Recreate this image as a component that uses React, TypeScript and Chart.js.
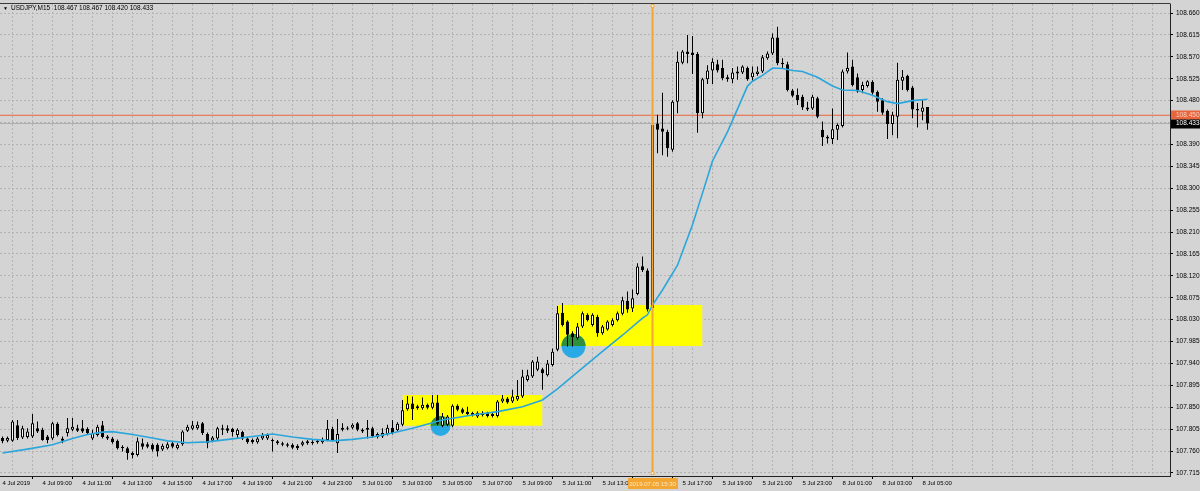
import React, { useEffect, useRef } from 'react';
import { Chart, registerables } from 'chart.js';
Chart.register(...registerables);

// ---------- data ----------
const symbolName = 'USDJPY,M15';
const timeLabels = [
  '4 Jul 2019', '4 Jul 09:00', '4 Jul 11:00', '4 Jul 13:00', '4 Jul 15:00', '4 Jul 17:00',
  '4 Jul 19:00', '4 Jul 21:00', '4 Jul 23:00', '5 Jul 01:00', '5 Jul 03:00', '5 Jul 05:00',
  '5 Jul 07:00', '5 Jul 09:00', '5 Jul 11:00', '5 Jul 13:00', '5 Jul 15:00', '5 Jul 17:00',
  '5 Jul 19:00', '5 Jul 21:00', '5 Jul 23:00', '8 Jul 01:00', '8 Jul 03:00', '8 Jul 05:00',
];
const priceTicks = [
  107.715, 107.76, 107.805, 107.85, 107.895, 107.94, 107.985, 108.03, 108.075, 108.12, 108.165,
  108.21, 108.255, 108.3, 108.345, 108.39, 108.435, 108.48, 108.525, 108.57, 108.615, 108.66,
];

const opens = [
  107.787, 107.781, 107.781, 107.813, 107.788, 107.789, 107.790, 107.807, 107.804, 107.790,
  107.786, 107.816, 107.786, 107.797, 107.804, 107.807, 107.807, 107.806, 107.786, 107.793,
  107.813, 107.790, 107.786, 107.781, 107.769, 107.766, 107.756, 107.752, 107.776, 107.774,
  107.773, 107.773, 107.763, 107.766, 107.776, 107.766, 107.774, 107.802, 107.806, 107.807,
  107.817, 107.795, 107.781, 107.786, 107.807, 107.807, 107.806, 107.793, 107.799, 107.786,
  107.783, 107.778, 107.786, 107.786, 107.783, 107.780, 107.776, 107.774, 107.773, 107.771,
  107.773, 107.780, 107.779, 107.778, 107.778, 107.783, 107.806, 107.776, 107.804, 107.808,
  107.808, 107.817, 107.804, 107.804, 107.807, 107.789, 107.790, 107.795, 107.808, 107.803,
  107.814, 107.846, 107.858, 107.852, 107.848, 107.855, 107.849, 107.860, 107.812, 107.814,
  107.812, 107.853, 107.846, 107.841, 107.838, 107.831, 107.839, 107.838, 107.836, 107.832,
  107.862, 107.868, 107.862, 107.866, 107.872, 107.906, 107.913, 107.927, 107.928, 107.916,
  107.937, 107.968, 108.044, 108.026, 108.002, 107.992, 108.016, 108.040, 108.019, 108.036,
  108.002, 108.010, 108.019, 108.029, 108.042, 108.069, 108.053, 108.083, 108.140, 108.131,
  108.054, 108.433, 108.423, 108.416, 108.379, 108.478, 108.558, 108.581, 108.579, 108.576,
  108.454, 108.524, 108.542, 108.555, 108.547, 108.528, 108.524, 108.540, 108.538, 108.547,
  108.528, 108.535, 108.540, 108.567, 108.577, 108.610, 108.558, 108.555, 108.501, 108.492,
  108.488, 108.466, 108.464, 108.485, 108.420, 108.406, 108.401, 108.420, 108.428, 108.540,
  108.550, 108.528, 108.502, 108.510, 108.519, 108.498, 108.481, 108.459, 108.432, 108.447,
  108.521, 108.531, 108.507, 108.463, 108.457, 108.467,
];
const highs = [
  107.790, 107.790, 107.824, 107.824, 107.812, 107.807, 107.836, 107.821, 107.808, 107.793,
  107.820, 107.819, 107.790, 107.828, 107.828, 107.814, 107.824, 107.809, 107.804, 107.814,
  107.822, 107.793, 107.789, 107.784, 107.772, 107.769, 107.759, 107.788, 107.786, 107.778,
  107.776, 107.776, 107.775, 107.778, 107.780, 107.776, 107.803, 107.814, 107.822, 107.821,
  107.820, 107.798, 107.791, 107.810, 107.814, 107.813, 107.808, 107.807, 107.802, 107.789,
  107.786, 107.789, 107.797, 107.796, 107.786, 107.783, 107.779, 107.777, 107.776, 107.774,
  107.781, 107.783, 107.782, 107.784, 107.788, 107.824, 107.810, 107.826, 107.817, 107.811,
  107.817, 107.820, 107.807, 107.824, 107.810, 107.798, 107.807, 107.814, 107.824, 107.819,
  107.865, 107.873, 107.872, 107.855, 107.870, 107.858, 107.875, 107.875, 107.838, 107.834,
  107.856, 107.856, 107.849, 107.851, 107.841, 107.842, 107.842, 107.841, 107.839, 107.865,
  107.875, 107.871, 107.886, 107.906, 107.927, 107.927, 107.947, 107.954, 107.931, 107.947,
  107.971, 108.058, 108.064, 108.029, 108.006, 108.023, 108.047, 108.043, 108.043, 108.040,
  108.019, 108.029, 108.033, 108.047, 108.077, 108.088, 108.092, 108.146, 108.160, 108.135,
  108.440, 108.451, 108.496, 108.420, 108.481, 108.581, 108.584, 108.615, 108.613, 108.580,
  108.527, 108.553, 108.567, 108.564, 108.564, 108.533, 108.547, 108.550, 108.553, 108.550,
  108.550, 108.550, 108.574, 108.581, 108.618, 108.632, 108.567, 108.560, 108.504, 108.505,
  108.492, 108.478, 108.492, 108.488, 108.437, 108.409, 108.464, 108.433, 108.544, 108.579,
  108.564, 108.536, 108.519, 108.522, 108.522, 108.501, 108.485, 108.462, 108.457, 108.558,
  108.543, 108.533, 108.510, 108.475, 108.481, 108.467,
];
const lows = [
  107.776, 107.778, 107.779, 107.783, 107.785, 107.786, 107.787, 107.797, 107.781, 107.776,
  107.783, 107.790, 107.776, 107.790, 107.801, 107.799, 107.797, 107.793, 107.783, 107.790,
  107.786, 107.783, 107.775, 107.763, 107.759, 107.742, 107.745, 107.749, 107.763, 107.766,
  107.759, 107.749, 107.760, 107.763, 107.766, 107.763, 107.771, 107.799, 107.803, 107.804,
  107.793, 107.766, 107.778, 107.783, 107.793, 107.797, 107.790, 107.786, 107.783, 107.775,
  107.775, 107.775, 107.783, 107.783, 107.759, 107.773, 107.770, 107.768, 107.764, 107.762,
  107.770, 107.773, 107.773, 107.775, 107.775, 107.780, 107.780, 107.756, 107.801, 107.803,
  107.805, 107.801, 107.797, 107.786, 107.787, 107.786, 107.787, 107.792, 107.794, 107.800,
  107.811, 107.843, 107.824, 107.845, 107.845, 107.846, 107.846, 107.813, 107.809, 107.811,
  107.809, 107.842, 107.836, 107.833, 107.831, 107.828, 107.831, 107.829, 107.829, 107.829,
  107.859, 107.857, 107.859, 107.863, 107.869, 107.903, 107.910, 107.924, 107.886, 107.913,
  107.934, 107.965, 108.016, 107.975, 107.975, 107.989, 108.013, 108.026, 108.016, 107.995,
  107.999, 108.007, 108.016, 108.026, 108.039, 108.044, 108.046, 108.080, 108.128, 108.047,
  108.047, 108.372, 108.368, 108.365, 108.375, 108.454, 108.555, 108.557, 108.535, 108.414,
  108.444, 108.514, 108.514, 108.538, 108.522, 108.519, 108.516, 108.523, 108.535, 108.521,
  108.519, 108.531, 108.537, 108.564, 108.574, 108.553, 108.546, 108.499, 108.487, 108.471,
  108.461, 108.459, 108.461, 108.444, 108.387, 108.392, 108.391, 108.399, 108.425, 108.536,
  108.509, 108.496, 108.495, 108.507, 108.492, 108.457, 108.451, 108.401, 108.409, 108.403,
  108.502, 108.499, 108.444, 108.425, 108.440, 108.420,
];
const closes = [
  107.780, 107.787, 107.821, 107.787, 107.807, 107.800, 107.817, 107.800, 107.783, 107.783,
  107.817, 107.793, 107.781, 107.807, 107.810, 107.802, 107.800, 107.797, 107.797, 107.810,
  107.789, 107.786, 107.778, 107.766, 107.766, 107.756, 107.752, 107.780, 107.769, 107.769,
  107.763, 107.759, 107.771, 107.774, 107.769, 107.773, 107.800, 107.810, 107.813, 107.814,
  107.797, 107.776, 107.788, 107.807, 107.804, 107.802, 107.799, 107.804, 107.786, 107.778,
  107.778, 107.786, 107.792, 107.793, 107.780, 107.776, 107.773, 107.771, 107.767, 107.766,
  107.778, 107.776, 107.776, 107.781, 107.783, 107.806, 107.783, 107.795, 107.808, 107.806,
  107.814, 107.804, 107.800, 107.808, 107.790, 107.795, 107.797, 107.808, 107.797, 107.816,
  107.844, 107.858, 107.846, 107.848, 107.855, 107.849, 107.860, 107.816, 107.831, 107.831,
  107.853, 107.845, 107.839, 107.836, 107.834, 107.839, 107.834, 107.832, 107.832, 107.862,
  107.868, 107.860, 107.872, 107.873, 107.913, 107.916, 107.944, 107.944, 107.920, 107.940,
  107.964, 108.043, 108.019, 107.999, 107.994, 108.016, 108.043, 108.029, 108.040, 108.002,
  108.016, 108.026, 108.029, 108.043, 108.070, 108.051, 108.074, 108.139, 108.132, 108.051,
  108.430, 108.420, 108.416, 108.382, 108.478, 108.560, 108.581, 108.576, 108.574, 108.454,
  108.524, 108.542, 108.560, 108.542, 108.526, 108.524, 108.538, 108.536, 108.550, 108.524,
  108.538, 108.540, 108.569, 108.577, 108.610, 108.557, 108.555, 108.502, 108.490, 108.481,
  108.466, 108.462, 108.488, 108.447, 108.405, 108.402, 108.421, 108.430, 108.540, 108.547,
  108.512, 108.499, 108.512, 108.520, 108.496, 108.478, 108.455, 108.432, 108.451, 108.523,
  108.529, 108.502, 108.462, 108.460, 108.466, 108.433,
];

// moving average (bar index -> value)
const maIndex = [0, 5, 10, 14, 17, 20, 22, 26, 30, 33, 37, 41, 46, 50, 54, 58, 62, 66, 70, 74, 78, 82, 88, 94, 99, 104, 108, 111, 115, 120, 124, 128, 129, 130, 132, 135, 138, 140, 142, 145, 149, 150, 152, 154, 156, 158, 160, 163, 166, 168, 171, 174, 177, 179, 182, 185];
const maValue = [107.756, 107.764, 107.773, 107.786, 107.794, 107.799, 107.800, 107.794, 107.787, 107.781, 107.777, 107.779, 107.785, 107.790, 107.795, 107.789, 107.784, 107.781, 107.784, 107.789, 107.797, 107.807, 107.824, 107.834, 107.841, 107.851, 107.865, 107.888, 107.922, 107.965, 107.998, 108.033, 108.040, 108.060, 108.091, 108.142, 108.225, 108.290, 108.356, 108.416, 108.510, 108.520, 108.532, 108.547, 108.546, 108.542, 108.540, 108.528, 108.510, 108.502, 108.501, 108.491, 108.478, 108.474, 108.480, 108.483];

// chart objects
const boxStart = [80, 111];
const boxEnd = [108, 140];
const boxTop = [107.875, 108.06];
const boxBottom = [107.812, 107.976];
const circleIndex = [87.6, 114.2];
const circlePrice = [107.8116, 107.976];
const levelPrice = 108.45;
const bidPrice = 108.433;
const eventIndex = 130;
const eventLabel = '2019.07.05 15:30';

// ---------- styling ----------
const BG = '#d4d4d4';
const GRID = '#b3b3b3';
const YELLOW = '#ffff00';
const CIRCLE_BLUE = '#2aaae4';
const CIRCLE_GREEN = '#2f8f3a';
const MA_COLOR = '#2aa6dc';
const LEVEL_COLOR = '#e8643c';
const EVENT_COLOR = '#f3a632';
const FONT = 'Liberation Sans';
const X_MIN = -0.5;
const X_MAX = 233.5;
const Y_MIN = 107.7088;
const Y_MAX = 108.6786;
const GREEN_LABEL = 'circles-inside-boxes';

const overlayPlugin = {
  id: 'mtOverlay',
  beforeDatasetDraw(chart: any, args: any) {
    const ds = chart.data.datasets[args.index];
    if (!ds || ds.label !== GREEN_LABEL) return;
    const xs = chart.scales.x;
    const ys = chart.scales.y;
    const ctx = chart.ctx;
    ctx.save();
    ctx.beginPath();
    boxStart.forEach((s, k) => {
      const x0 = xs.getPixelForValue(s);
      const x1 = xs.getPixelForValue(boxEnd[k]);
      const y0 = ys.getPixelForValue(boxTop[k]);
      const y1 = ys.getPixelForValue(boxBottom[k]);
      ctx.rect(x0, y0, x1 - x0, y1 - y0);
    });
    ctx.clip();
    (args.meta.data || []).forEach((el: any) => el.draw(ctx, chart.chartArea));
    ctx.restore();
    return false;
  },
  afterDraw(chart: any) {
    const ctx = chart.ctx;
    const area = chart.chartArea;
    const xs = chart.scales.x;
    const ys = chart.scales.y;
    ctx.save();
    // top frame line
    ctx.strokeStyle = '#3a3a3a';
    ctx.lineWidth = 1;
    ctx.beginPath();
    ctx.moveTo(0, area.top - 0.5);
    ctx.lineTo(area.right + 0.5, area.top - 0.5);
    ctx.stroke();

    ctx.font = `6.5px "${FONT}"`;
    ctx.textBaseline = 'middle';
    const tag = (value: number, bg: string, fg: string) => {
      const py = ys.getPixelForValue(value);
      ctx.fillStyle = bg;
      ctx.fillRect(area.right + 1, Math.round(py) - 4.5, 29, 9);
      ctx.fillStyle = fg;
      ctx.textAlign = 'left';
      ctx.fillText(value.toFixed(3), area.right + 6, py);
    };
    tag(levelPrice, LEVEL_COLOR, '#f4d0c0');
    tag(bidPrice, '#000000', '#ffffff');

    // event time tag on the time axis
    const ex = xs.getPixelForValue(eventIndex);
    ctx.fillStyle = EVENT_COLOR;
    ctx.fillRect(Math.round(ex) - 25, area.bottom + 2, 50, 11);
    ctx.fillStyle = '#fbe7c6';
    ctx.textAlign = 'center';
    ctx.font = `6px "${FONT}"`;
    ctx.fillText(eventLabel, ex, area.bottom + 8);
    ctx.restore();
  },
};

export default function App() {
  const ref = useRef<HTMLCanvasElement>(null);
  useEffect(() => {
    document.body.style.margin = '0';
    const idx = opens.map((_, i) => i);
    const datasets: any[] = [];
    boxStart.forEach((s, k) => {
      datasets.push({
        type: 'line',
        data: [{ x: s, y: boxTop[k] }, { x: boxEnd[k], y: boxTop[k] }],
        borderColor: 'rgba(0,0,0,0)',
        borderWidth: 1,
        pointRadius: 0,
        fill: '+1',
        backgroundColor: YELLOW,
        order: 30,
      });
      datasets.push({
        type: 'line',
        data: [{ x: s, y: boxBottom[k] }, { x: boxEnd[k], y: boxBottom[k] }],
        borderColor: 'rgba(0,0,0,0)',
        borderWidth: 1,
        pointRadius: 0,
        fill: false,
        order: 30,
      });
    });
    datasets.push({
      type: 'scatter',
      label: 'circles',
      data: circleIndex.map((c, k) => ({ x: c, y: circlePrice[k] })),
      pointRadius: [10, 12],
      pointBackgroundColor: CIRCLE_BLUE,
      pointBorderColor: 'rgba(0,0,0,0)',
      pointBorderWidth: 0,
      order: 25,
    });
    datasets.push({
      type: 'scatter',
      label: GREEN_LABEL,
      data: circleIndex.map((c, k) => ({ x: c, y: circlePrice[k] })),
      pointRadius: [10, 12],
      pointBackgroundColor: CIRCLE_GREEN,
      pointBorderColor: 'rgba(0,0,0,0)',
      pointBorderWidth: 0,
      order: 24,
    });
    datasets.push({
      type: 'line',
      data: [{ x: X_MIN, y: bidPrice }, { x: X_MAX, y: bidPrice }],
      borderColor: '#acacac',
      borderWidth: 1,
      pointRadius: 0,
      order: 21,
    });
    datasets.push({
      type: 'line',
      data: [{ x: X_MIN, y: levelPrice }, { x: X_MAX, y: levelPrice }],
      borderColor: LEVEL_COLOR,
      borderWidth: 1,
      pointRadius: 0,
      order: 20,
    });
    datasets.push({
      type: 'bar',
      data: idx.map((i) => ({ x: i, y: [lows[i], highs[i]] })),
      backgroundColor: '#000000',
      grouped: false,
      barPercentage: 1,
      categoryPercentage: 1,
      maxBarThickness: 1,
      minBarLength: 1,
      inflateAmount: 0,
      order: 12,
    });
    datasets.push({
      type: 'bar',
      data: idx.map((i) => ({ x: i, y: [opens[i], closes[i]] })),
      backgroundColor: idx.map((i) => (closes[i] >= opens[i] ? '#ffffff' : '#000000')),
      borderColor: '#000000',
      borderWidth: 1,
      borderSkipped: false,
      grouped: false,
      barPercentage: 1,
      categoryPercentage: 1,
      maxBarThickness: 3,
      minBarLength: 1,
      inflateAmount: 0,
      order: 11,
    });
    datasets.push({
      type: 'line',
      data: maIndex.map((v, k) => ({ x: v, y: maValue[k] })),
      borderColor: MA_COLOR,
      borderWidth: 1.6,
      pointRadius: 0,
      tension: 0,
      order: 5,
    });
    datasets.push({
      type: 'line',
      data: [{ x: eventIndex, y: Y_MAX - 0.004 }, { x: eventIndex, y: Y_MIN + 0.006 }],
      borderColor: EVENT_COLOR,
      borderWidth: 2,
      pointStyle: 'rect',
      pointRadius: 2,
      pointBackgroundColor: '#fff3dc',
      pointBorderColor: EVENT_COLOR,
      pointBorderWidth: 1,
      order: 1,
    });

    const chart = new Chart(ref.current as HTMLCanvasElement, {
      type: 'bar',
      data: { datasets },
      options: {
        animation: false,
        responsive: false,
        devicePixelRatio: 1,
        events: [],
        layout: { autoPadding: false, padding: { top: 4, left: 0, right: 0, bottom: 0 } },
        plugins: { legend: { display: false }, tooltip: { enabled: false } },
        scales: {
          x: {
            type: 'linear',
            min: X_MIN,
            max: X_MAX,
            offset: false,
            afterBuildTicks: (s: any) => {
              const t: any[] = [];
              for (let v = 0; v <= 232; v += 4) t.push({ value: v });
              s.ticks = t;
            },
            afterFit: (s: any) => {
              s.height = 15;
              s.paddingLeft = 0;
              s.paddingRight = 0;
            },
            ticks: {
              autoSkip: false,
              maxRotation: 0,
              minRotation: 0,
              align: 'start',
              padding: 1,
              color: '#000',
              font: { family: FONT, size: 6 },
              callback: (v: any) => {
                const n = Number(v);
                const k = n / 8;
                return Number.isInteger(k) && k < timeLabels.length ? timeLabels[k] : '';
              },
            },
            grid: {
              color: GRID,
              lineWidth: 1,
              tickLength: 3,
              tickColor: (c: any) =>
                c.tick && c.tick.value % 8 === 0 && c.tick.value / 8 < timeLabels.length ? '#000' : 'rgba(0,0,0,0)',
            },
            border: { display: true, color: '#222', width: 1, dash: [2, 2] },
          },
          y: {
            type: 'linear',
            position: 'right',
            min: Y_MIN,
            max: Y_MAX,
            afterBuildTicks: (s: any) => {
              s.ticks = priceTicks.map((v) => ({ value: v }));
            },
            afterFit: (s: any) => {
              s.width = 30;
              s.paddingTop = 0;
              s.paddingBottom = 0;
            },
            ticks: {
              padding: 3,
              color: '#000',
              font: { family: FONT, size: 6.5 },
              callback: (v: any) => Number(v).toFixed(3),
            },
            grid: { color: GRID, lineWidth: 1, tickLength: 3, tickColor: '#000' },
            border: { display: true, color: '#222', width: 1, dash: [2, 2] },
          },
        },
      } as any,
      plugins: [overlayPlugin as any],
    });
    return () => chart.destroy();
  }, []);

  const header = `${symbolName}  ${opens[opens.length - 1].toFixed(3)} ${highs[highs.length - 1].toFixed(3)} ${lows[lows.length - 1].toFixed(3)} ${closes[closes.length - 1].toFixed(3)}`;

  return (
    <div style={{ position: 'relative', width: 1200, height: 491, background: BG, overflow: 'hidden' }}>
      <canvas ref={ref} width={1200} height={491} style={{ display: 'block', width: 1200, height: 491 }} />
      <div
        style={{
          position: 'absolute',
          left: 3,
          top: 4,
          font: `6.5px "${FONT}"`,
          lineHeight: '7px',
          color: '#000',
          whiteSpace: 'pre',
        }}
      >
        <span style={{ fontSize: '5px', marginRight: 3 }}>▼</span>
        {header}
      </div>
    </div>
  );
}
